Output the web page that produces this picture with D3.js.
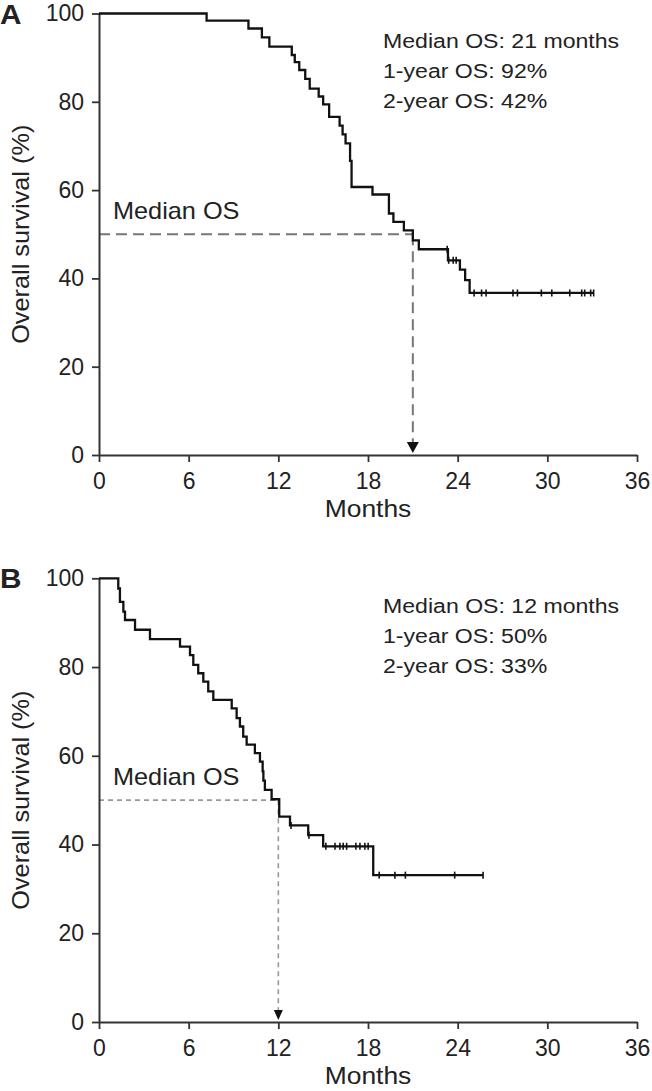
<!DOCTYPE html>
<html><head><meta charset="utf-8">
<script src="https://cdn.jsdelivr.net/npm/d3@7"></script>
<style>
body{margin:0;background:#fff}
svg{display:block}
text{font-family:"Liberation Sans",Arial,Helvetica,sans-serif;fill:#222}
</style>
</head><body>
<svg id="c" width="652" height="1091"></svg>
<script>
// ---------- data ----------
const monthTicks = [0, 6, 12, 18, 24, 30, 36];
const survTicks = [0, 20, 40, 60, 80, 100];

// Panel A: Kaplan-Meier step points (time in months, survival %)
const timeA = [0, 7.2, 10.0, 10.9, 11.4, 12.9, 13.1, 13.4, 13.8, 14.1, 14.7, 15.0, 15.4, 16.1, 16.3, 16.5, 16.8, 16.9, 18.3, 19.4, 19.7, 20.4, 21.0, 21.4, 23.35, 24.15, 24.5, 24.8];
const survA = [100, 98.4, 96.6, 94.6, 92.5, 90.6, 89.0, 87.2, 85.2, 83.0, 81.2, 79.4, 76.6, 74.6, 72.6, 70.6, 66.6, 60.7, 59.0, 54.7, 52.8, 50.9, 48.6, 46.6, 44.1, 42.0, 39.6, 36.7];
const endA = 33.1;
const censorA = [23.3, 23.4, 23.7, 23.9, 25.1, 25.6, 25.9, 27.7, 28.0, 29.6, 30.3, 31.5, 32.3, 32.5, 32.9, 33.1];
const medianA = 21;
const statsA = ["Median OS: 21 months", "1-year OS: 92%", "2-year OS: 42%"];

// Panel B
const timeB = [0, 1.29, 1.40, 1.63, 1.74, 2.41, 3.41, 5.42, 6.09, 6.31, 6.64, 6.98, 7.31, 7.65, 8.88, 9.21, 9.43, 9.65, 9.88, 10.43, 10.77, 10.95, 11.0, 11.1, 11.55, 12.06, 12.78, 14.0, 15.0, 18.35];
const survB = [100, 97.7, 94.7, 92.5, 90.6, 88.4, 86.3, 84.6, 82.7, 80.5, 78.6, 76.7, 74.5, 72.6, 70.7, 68.5, 66.6, 64.3, 62.5, 60.6, 58.7, 56.5, 54.4, 52.3, 50.2, 46.3, 44.3, 42.1, 39.6, 33.1];
const endB = 25.7;
const censorB = [12.85, 14.05, 15.18, 15.79, 16.12, 16.34, 16.57, 17.19, 17.46, 17.79, 18.01, 18.75, 19.8, 20.5, 23.8, 25.7];
const medianB = 12;
const statsB = ["Median OS: 12 months", "1-year OS: 50%", "2-year OS: 33%"];

// ---------- drawing ----------
const svg = d3.select("#c");
const SX = 1.1; // horizontal glyph stretch of the original typeface

function stretchedText(g, x, y, str, size, opts = {}) {
  const t = g.append("text")
    .attr("transform", `translate(${x},${y})` + (opts.rotate ? ` rotate(${opts.rotate})` : "") + ` scale(${SX},1)`)
    .attr("font-size", size)
    .attr("text-anchor", opts.anchor || "start")
    .text(str);
  if (opts.bold) t.attr("font-weight", "bold");
  return t;
}

function drawPanel(p) {
  const g = svg.append("g");
  const x = d3.scaleLinear().domain([0, 36]).range([99, 637]);
  const y = d3.scaleLinear().domain([0, 100]).range([p.y0, p.y100]);

  // median guide (dashed) – behind the curve
  g.append("line")
    .attr("x1", x(0)).attr("x2", x(p.median))
    .attr("y1", y(50)).attr("y2", y(50))
    .attr("stroke", p.dashColor).attr("stroke-width", p.dashWidth)
    .attr("stroke-dasharray", p.dash);
  g.append("line")
    .attr("x1", x(p.median)).attr("x2", x(p.median))
    .attr("y1", y(50)).attr("y2", y(0) - p.arrowH)
    .attr("stroke", p.dashColor).attr("stroke-width", p.dashWidth)
    .attr("stroke-dasharray", p.dash);
  const ax = x(p.median), ay = y(0) - 2;
  g.append("path")
    .attr("d", `M${ax},${ay} L${ax - p.arrowW / 2},${ay - p.arrowH} L${ax + p.arrowW / 2},${ay - p.arrowH} Z`)
    .attr("fill", "#111");

  // axes
  const gy = g.append("g").attr("transform", `translate(${x(0)},0)`)
    .call(d3.axisLeft(y).tickValues(survTicks).tickSize(7).tickSizeOuter(0).tickPadding(8));
  const gx = g.append("g").attr("transform", `translate(0,${y(0)})`)
    .call(d3.axisBottom(x).tickValues(monthTicks).tickSize(7).tickSizeOuter(0).tickPadding(11));
  [gy, gx].forEach(a => {
    a.select(".domain").attr("stroke", "#333").attr("stroke-width", 2);
    a.selectAll(".tick line").attr("stroke", "#333").attr("stroke-width", 1.8);
    a.selectAll(".tick text").attr("font-size", 23).attr("fill", "#222")
      .attr("font-family", '"Liberation Sans",Arial,Helvetica,sans-serif');
  });

  // KM curve
  const pts = p.time.map((t, i) => [t, p.surv[i]]);
  pts.push([p.end, p.surv[p.surv.length - 1]]);
  const line = d3.line().x(d => x(d[0])).y(d => y(d[1])).curve(d3.curveStepAfter);
  g.append("path").attr("d", line(pts)).attr("fill", "none")
    .attr("stroke", "#111").attr("stroke-width", 2.3);

  // censor marks
  const bis = d3.bisector(d => d).right;
  g.selectAll(null).data(p.censor).join("line")
    .attr("x1", d => x(d)).attr("x2", d => x(d))
    .attr("y1", d => y(p.surv[bis(p.time, d) - 1]) - 3.5)
    .attr("y2", d => y(p.surv[bis(p.time, d) - 1]) + 3.5)
    .attr("stroke", "#111").attr("stroke-width", 1.6);

  // texts
  stretchedText(g, 0, p.y100 + 10, p.label, 27, { bold: true });
  p.stats.forEach((s, i) => stretchedText(g, 383, p.y100 + 34.5 + i * 30, s, 21));
  stretchedText(g, 113, y(50) - 15, "Median OS", 23);
  stretchedText(g, 368, y(0) + 62, "Months", 24, { anchor: "middle" });
  stretchedText(g, 29, (y(0) + y(100)) / 2, "Overall survival (%)", 23, { anchor: "middle", rotate: -90 });
}

drawPanel({
  label: "A", y0: 455, y100: 13.5, time: timeA, surv: survA, end: endA, censor: censorA,
  median: medianA, stats: statsA,
  dash: "11,6", dashColor: "#777", dashWidth: 2, arrowW: 12, arrowH: 11
});
drawPanel({
  label: "B", y0: 1022, y100: 578.3, time: timeB, surv: survB, end: endB, censor: censorB,
  median: medianB, stats: statsB,
  dash: "5,4", dashColor: "#999", dashWidth: 1.6, arrowW: 9, arrowH: 10
});
</script>
</body></html>
